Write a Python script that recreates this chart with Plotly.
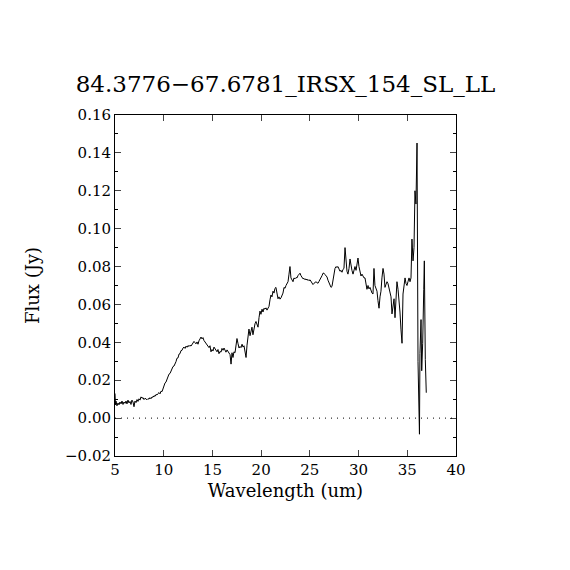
import plotly.graph_objects as go

title_text = "84.3776\u221267.6781_IRSX_154_SL_LL"

# spectrum (um, Jy)
wavelength = [
    5.00, 5.05, 5.10, 5.20, 5.31, 5.41, 5.51, 5.62, 5.72, 5.82, 5.92, 6.03, 6.13, 6.23, 6.33,
    6.44, 6.54, 6.64, 6.74, 6.85, 6.95, 7.05, 7.16, 7.26, 7.36, 7.46, 7.57, 7.67, 7.77, 7.88,
    7.98, 8.08, 8.18, 8.28, 8.39, 8.49, 8.59, 8.69, 8.80, 8.90, 9.00, 9.11, 9.21, 9.31, 9.42,
    9.52, 9.62, 9.72, 9.83, 9.93, 10.03, 10.13, 10.23, 10.34, 10.44, 10.54, 10.65, 10.75,
    10.85, 10.95, 11.06, 11.16, 11.26, 11.36, 11.47, 11.57, 11.67, 11.77, 11.88, 11.98,
    12.08, 12.19, 12.29, 12.39, 12.49, 12.60, 12.70, 12.80, 12.90, 13.01, 13.11, 13.21,
    13.31, 13.42, 13.52, 13.62, 13.72, 13.83, 13.93, 14.03, 14.13, 14.24, 14.34, 14.44,
    14.55, 14.65, 14.75, 14.85, 14.96, 15.06, 15.16, 15.26, 15.37, 15.47, 15.57, 15.67,
    15.78, 15.88, 15.98, 16.09, 16.19, 16.29, 16.39, 16.50, 16.60, 16.70, 16.81, 16.91,
    17.01, 17.11, 17.21, 17.32, 17.42, 17.52, 17.62, 17.73, 17.83, 17.93, 18.04, 18.14,
    18.24, 18.34, 18.45, 18.55, 18.65, 18.75, 18.86, 18.96, 19.06, 19.16, 19.27, 19.37,
    19.47, 19.57, 19.68, 19.78, 19.88, 19.98, 20.09, 20.19, 20.29, 20.39, 20.50, 20.60,
    20.70, 20.81, 20.91, 21.01, 21.11, 21.22, 21.32, 21.42, 21.52, 21.63, 21.73, 21.83,
    21.94, 22.04, 22.14, 22.24, 22.35, 22.45, 22.55, 22.65, 22.76, 22.86, 22.96, 23.06,
    23.17, 23.27, 23.37, 23.47, 23.58, 23.68, 23.78, 23.89, 23.99, 24.09, 24.19, 24.30,
    24.40, 24.50, 24.60, 24.71, 24.81, 24.91, 25.02, 25.12, 25.22, 25.32, 25.43, 25.53,
    25.63, 25.73, 25.84, 25.94, 26.04, 26.14, 26.25, 26.35, 26.45, 26.55, 26.66, 26.76,
    26.86, 26.96, 27.07, 27.17, 27.27, 27.37, 27.48, 27.58, 27.68, 27.78, 27.89, 27.99,
    28.09, 28.20, 28.30, 28.40, 28.50, 28.61, 28.71, 28.81, 28.91, 29.02, 29.12, 29.22,
    29.32, 29.43, 29.53, 29.63, 29.74, 29.84, 29.94, 30.04, 30.15, 30.25, 30.35, 30.45,
    30.56, 30.66, 30.76, 30.86, 30.97, 31.07, 31.17, 31.27, 31.38, 31.48, 31.58, 31.68,
    31.79, 31.89, 31.99, 32.10, 32.20, 32.30, 32.40, 32.51, 32.61, 32.71, 32.81, 32.92,
    33.02, 33.12, 33.23, 33.33, 33.43, 33.53, 33.64, 33.74, 33.84, 33.94, 34.05, 34.15,
    34.25, 34.35, 34.46, 34.56, 34.66, 34.77, 34.87, 34.97, 35.07, 35.18, 35.28, 35.38,
    35.48, 35.59, 35.69, 35.79, 35.89, 36.00, 36.10, 36.15, 36.25, 36.30, 36.41, 36.48,
    36.58, 36.69, 36.75, 36.85, 36.95,
]
flux = [
    0.0130, 0.0070, 0.0090, 0.0065, 0.0080, 0.0070, 0.0085, 0.0075, 0.0090, 0.0072, 0.0085,
    0.0078, 0.0090, 0.0075, 0.0095, 0.0080, 0.0088, 0.0072, 0.0095, 0.0085, 0.0060, 0.0090,
    0.0082, 0.0098, 0.0088, 0.0102, 0.0095, 0.0112, 0.0105, 0.0108, 0.0098, 0.0105, 0.0100,
    0.0097, 0.0103, 0.0100, 0.0108, 0.0102, 0.0112, 0.0110, 0.0118, 0.0115, 0.0125, 0.0122,
    0.0130, 0.0135, 0.0128, 0.0142, 0.0140, 0.0158, 0.0165, 0.0185, 0.0190, 0.0208, 0.0215,
    0.0232, 0.0236, 0.0252, 0.0256, 0.0272, 0.0275, 0.0294, 0.0298, 0.0316, 0.0318, 0.0338,
    0.0340, 0.0356, 0.0358, 0.0370, 0.0375, 0.0368, 0.0380, 0.0374, 0.0383, 0.0378, 0.0385,
    0.0380, 0.0388, 0.0395, 0.0405, 0.0398, 0.0392, 0.0402, 0.0390, 0.0408, 0.0415, 0.0428,
    0.0418, 0.0425, 0.0410, 0.0402, 0.0395, 0.0388, 0.0378, 0.0372, 0.0382, 0.0350, 0.0362,
    0.0354, 0.0375, 0.0365, 0.0358, 0.0350, 0.0362, 0.0340, 0.0352, 0.0348, 0.0368, 0.0358,
    0.0370, 0.0362, 0.0348, 0.0360, 0.0352, 0.0345, 0.0335, 0.0285, 0.0345, 0.0320, 0.0350,
    0.0345, 0.0380, 0.0420, 0.0395, 0.0370, 0.0378, 0.0372, 0.0390, 0.0375, 0.0382, 0.0355,
    0.0320, 0.0385, 0.0440, 0.0470, 0.0435, 0.0458, 0.0480, 0.0440, 0.0475, 0.0498, 0.0510,
    0.0490, 0.0480, 0.0530, 0.0565, 0.0548, 0.0575, 0.0560, 0.0580, 0.0575, 0.0582, 0.0570,
    0.0578, 0.0590, 0.0625, 0.0650, 0.0640, 0.0670, 0.0660, 0.0685, 0.0690, 0.0650, 0.0630,
    0.0640, 0.0628, 0.0635, 0.0645, 0.0660, 0.0690, 0.0685, 0.0700, 0.0715, 0.0720, 0.0760,
    0.0800, 0.0740, 0.0725, 0.0720, 0.0740, 0.0735, 0.0742, 0.0740, 0.0752, 0.0760, 0.0765,
    0.0752, 0.0740, 0.0735, 0.0738, 0.0730, 0.0735, 0.0728, 0.0732, 0.0725, 0.0730, 0.0720,
    0.0712, 0.0705, 0.0712, 0.0718, 0.0720, 0.0715, 0.0712, 0.0722, 0.0730, 0.0740, 0.0752,
    0.0765, 0.0765, 0.0758, 0.0752, 0.0745, 0.0728, 0.0715, 0.0705, 0.0690, 0.0695, 0.0735,
    0.0770, 0.0790, 0.0800, 0.0795, 0.0800, 0.0790, 0.0775, 0.0780, 0.0770, 0.0785, 0.0790,
    0.0900, 0.0800, 0.0775, 0.0760, 0.0790, 0.0840, 0.0800, 0.0780, 0.0760, 0.0790, 0.0800,
    0.0780, 0.0810, 0.0845, 0.0800, 0.0780, 0.0750, 0.0760, 0.0745, 0.0740, 0.0740, 0.0712,
    0.0680, 0.0700, 0.0682, 0.0690, 0.0670, 0.0660, 0.0655, 0.0790, 0.0700, 0.0680, 0.0670,
    0.0620, 0.0580, 0.0640, 0.0670, 0.0740, 0.0790, 0.0760, 0.0690, 0.0705, 0.0720, 0.0710,
    0.0690, 0.0660, 0.0640, 0.0550, 0.0600, 0.0630, 0.0530, 0.0600, 0.0720, 0.0680, 0.0630,
    0.0560, 0.0470, 0.0395, 0.0655, 0.0700, 0.0740, 0.0710, 0.0700, 0.0720, 0.0740, 0.0720,
    0.0740, 0.0945, 0.0830, 0.0900, 0.1200, 0.1130, 0.1452, 0.0300, 0.0074, -0.0085, 0.0340,
    0.0520, 0.0250, 0.0395, 0.0680, 0.0830, 0.0310, 0.0134,
]

x_range = [5, 40]
y_range = [-0.02, 0.16]

fig = go.Figure()
fig.add_trace(go.Scatter(x=wavelength, y=flux, mode="lines",
                         line=dict(color="black", width=1), showlegend=False))

# dotted zero level
fig.add_shape(type="line", xref="paper", x0=0, x1=1, yref="y", y0=0, y1=0,
              line=dict(color="black", width=1, dash="1px,5px"))

serif = "DejaVu Serif"
tick_font = dict(family=serif, size=15, color="black")
label_font = dict(family=serif, size=18, color="black")

fig.update_xaxes(range=x_range, dtick=5, tick0=5, ticks="inside", ticklen=6,
                 mirror="ticks", showline=True, linecolor="black", linewidth=1,
                 showgrid=False, zeroline=False, tickfont=tick_font,
                 title=dict(text="Wavelength (um)", font=label_font, standoff=6))
fig.update_yaxes(range=y_range, dtick=0.02, tick0=0, tickformat=".2f", ticks="inside", ticklen=6,
                 minor=dict(dtick=0.01, ticks="inside", ticklen=3, tickcolor="black"),
                 mirror="ticks", showline=True, linecolor="black", linewidth=1,
                 showgrid=False, zeroline=False, tickfont=tick_font,
                 title=dict(text="Flux (Jy)", font=label_font, standoff=20))

# page renders ~7px down/right, so margins are shifted to land the frame at 114..455
fig.update_layout(
    width=570, height=570,
    margin=dict(l=107, r=122, t=107, b=122),
    paper_bgcolor="white", plot_bgcolor="white",
    title=dict(text=title_text, x=(107 + 170.5) / 570, xanchor="center",
               y=1 - 76 / 570, yanchor="middle",
               font=dict(family=serif, size=23, color="black")),
)

fig.write_html("out.html")
